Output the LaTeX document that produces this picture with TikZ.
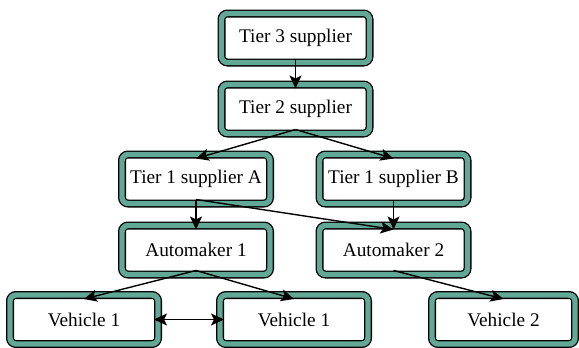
\documentclass[tikz,border=0pt]{standalone}
\usepackage{fontspec}
\setmainfont{Liberation Serif}
\usetikzlibrary{arrows.meta}
\definecolor{bandteal}{RGB}{98,168,150}
\begin{document}
\begin{tikzpicture}[x=1pt,y=-1pt,
  box/.style={draw=black, line width=1.3pt, double=bandteal, double distance=5.4pt,
    fill=white, rounded corners=6pt, minimum width=148pt, minimum height=49pt,
    inner sep=0pt, outer sep=-4pt, font=\fontsize{19.3}{22}\selectfont},
  tip/.tip={Stealth[length=13pt,width=12pt,inset=3pt]},
  link/.style={line width=1.4pt, -tip},
  both/.style={line width=1.4pt, tip-tip}]
\useasboundingbox (0,0) rectangle (579,348);
\node[box] (t3) at (295.5,38) {Tier 3 supplier};
\node[box] (t2) at (295.5,109) {Tier 2 supplier};
\node[box] (t1a) at (196,179) {Tier 1 supplier A};
\node[box] (t1b) at (393.5,179) {Tier 1 supplier B};
\node[box] (a1) at (196,250) {Automaker 1};
\node[box] (a2) at (393.5,250) {Automaker 2};
\node[box] (v1) at (84,319.5) {Vehicle 1};
\node[box] (v1b) at (294,319.5) {Vehicle 1};
\node[box, minimum width=143pt] (v2) at (503.5,319.5) {Vehicle 2};
\draw[link] (t3.south) -- (t2.north);
\draw[link] (t2.south) -- (t1a.north);
\draw[link] (t2.south) -- (t1b.north);
\draw[link] (t1a.south) -- (a1.north);
\draw[link] (t1a.south) -- (a2.north);
\draw[link] (t1b.south) -- (a2.north);
\draw[link] (a1.south) -- (v1.north);
\draw[link] (a1.south) -- (v1b.north);
\draw[link] (a2.south) -- (v2.north);
\draw[both] (v1.east) -- (v1b.west);
\end{tikzpicture}
\end{document}
